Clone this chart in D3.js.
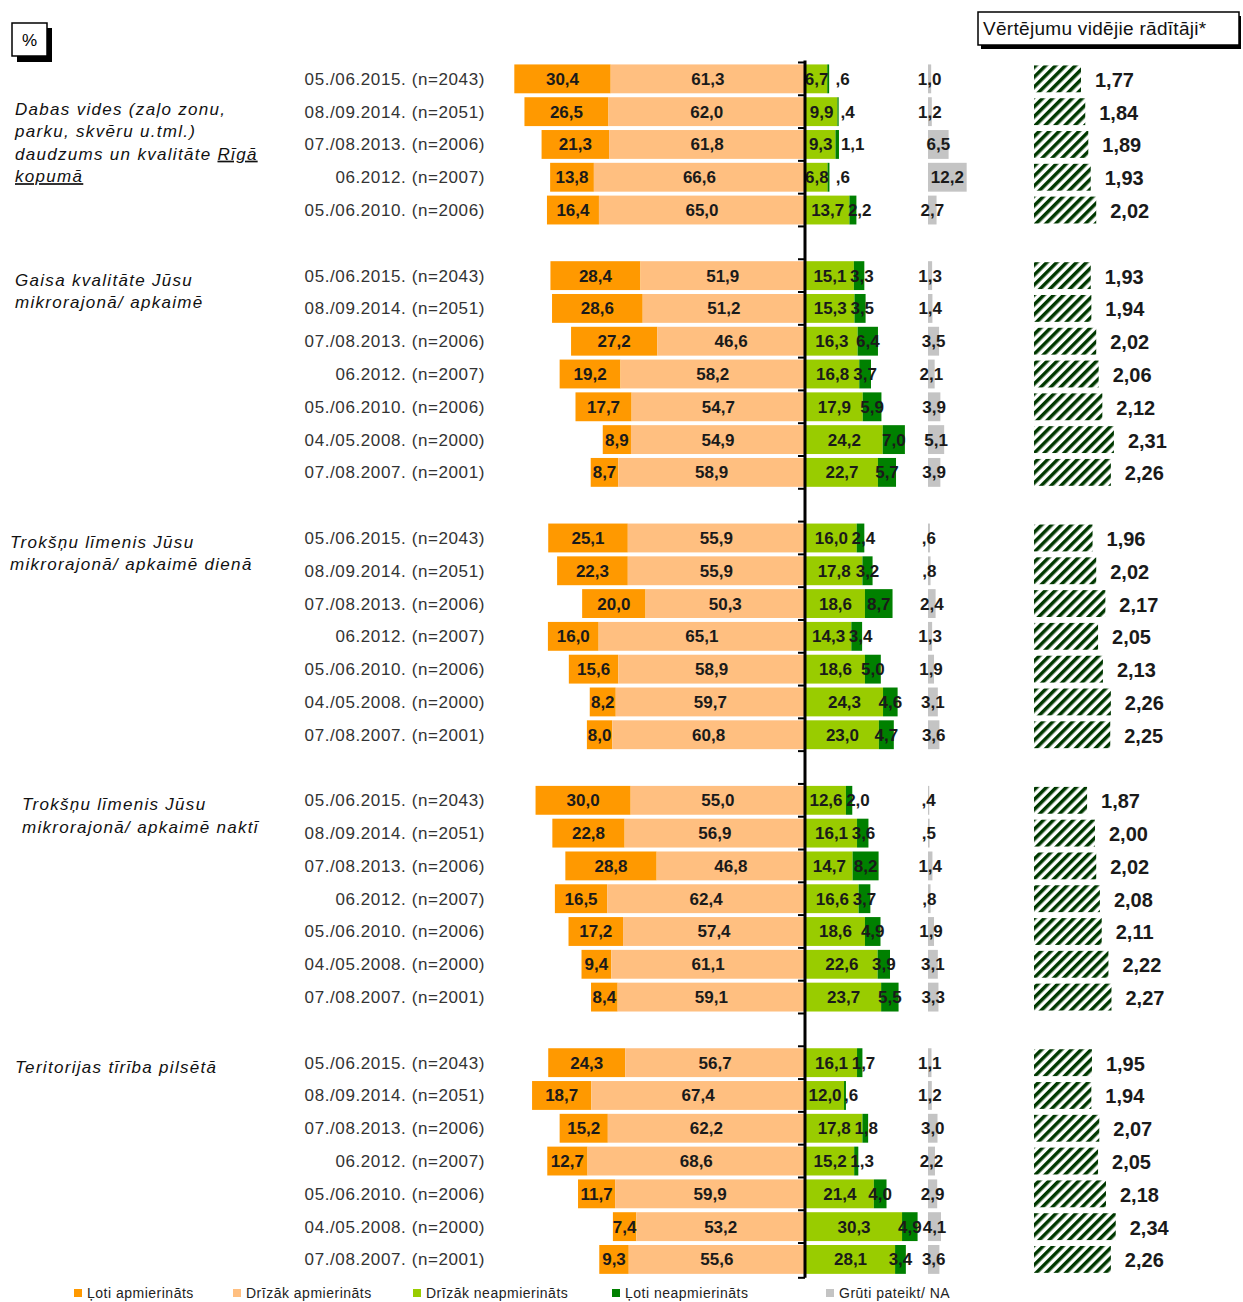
<!DOCTYPE html>
<html>
<head>
<meta charset="utf-8">
<script src="https://cdn.jsdelivr.net/npm/d3@7"></script>
<style>
  body { margin: 0; background: #fff; }
  svg { display: block; font-family: "Liberation Sans", Arial, sans-serif; }
</style>
</head>
<body>
<svg id="chart" width="1243" height="1302"></svg>
<script>
// ---------- DATA ----------
const groups = [
  "Dabas vides (zaļo zonu, parku, skvēru u.tml.) daudzums un kvalitāte Rīgā kopumā",
  "Gaisa kvalitāte Jūsu mikrorajonā/ apkaimē",
  "Trokšņu līmenis Jūsu mikrorajonā/ apkaimē dienā",
  "Trokšņu līmenis Jūsu mikrorajonā/ apkaimē naktī",
  "Teritorijas tīrība pilsētā"
];
const groupLines = [
  ["Dabas vides (zaļo zonu,", "parku, skvēru u.tml.)", "daudzums un kvalitāte |Rīgā", "|kopumā"],
  ["Gaisa kvalitāte Jūsu", "mikrorajonā/ apkaimē"],
  ["Trokšņu līmenis Jūsu", "mikrorajonā/ apkaimē dienā"],
  ["Trokšņu līmenis Jūsu", "mikrorajonā/ apkaimē naktī"],
  ["Teritorijas tīrība pilsētā"]
];
const waves = [
  "05./06.2015. (n=2043)", "08./09.2014. (n=2051)", "07./08.2013. (n=2006)",
  "06.2012. (n=2007)", "05./06.2010. (n=2006)", "04./05.2008. (n=2000)", "07./08.2007. (n=2001)"
];
const seriesNames = ["Ļoti apmierināts", "Drīzāk apmierināts", "Drīzāk neapmierināts", "Ļoti neapmierināts", "Grūti pateikt/ NA"];

const veryS = [
  [30.4, 26.5, 21.3, 13.8, 16.4],
  [28.4, 28.6, 27.2, 19.2, 17.7, 8.9, 8.7],
  [25.1, 22.3, 20.0, 16.0, 15.6, 8.2, 8.0],
  [30.0, 22.8, 28.8, 16.5, 17.2, 9.4, 8.4],
  [24.3, 18.7, 15.2, 12.7, 11.7, 7.4, 9.3]
];
const ratherS = [
  [61.3, 62.0, 61.8, 66.6, 65.0],
  [51.9, 51.2, 46.6, 58.2, 54.7, 54.9, 58.9],
  [55.9, 55.9, 50.3, 65.1, 58.9, 59.7, 60.8],
  [55.0, 56.9, 46.8, 62.4, 57.4, 61.1, 59.1],
  [56.7, 67.4, 62.2, 68.6, 59.9, 53.2, 55.6]
];
const ratherD = [
  [6.7, 9.9, 9.3, 6.8, 13.7],
  [15.1, 15.3, 16.3, 16.8, 17.9, 24.2, 22.7],
  [16.0, 17.8, 18.6, 14.3, 18.6, 24.3, 23.0],
  [12.6, 16.1, 14.7, 16.6, 18.6, 22.6, 23.7],
  [16.1, 12.0, 17.8, 15.2, 21.4, 30.3, 28.1]
];
const veryD = [
  [0.6, 0.4, 1.1, 0.6, 2.2],
  [3.3, 3.5, 6.4, 3.7, 5.9, 7.0, 5.7],
  [2.4, 3.2, 8.7, 3.4, 5.0, 4.6, 4.7],
  [2.0, 3.6, 8.2, 3.7, 4.9, 3.9, 5.5],
  [1.7, 0.6, 1.8, 1.3, 4.0, 4.9, 3.4]
];
const naVals = [
  [1.0, 1.2, 6.5, 12.2, 2.7],
  [1.3, 1.4, 3.5, 2.1, 3.9, 5.1, 3.9],
  [0.6, 0.8, 2.4, 1.3, 1.9, 3.1, 3.6],
  [0.4, 0.5, 1.4, 0.8, 1.9, 3.1, 3.3],
  [1.1, 1.2, 3.0, 2.2, 2.9, 4.1, 3.6]
];
const means = [
  [1.77, 1.84, 1.89, 1.93, 2.02],
  [1.93, 1.94, 2.02, 2.06, 2.12, 2.31, 2.26],
  [1.96, 2.02, 2.17, 2.05, 2.13, 2.26, 2.25],
  [1.87, 2.00, 2.02, 2.08, 2.11, 2.22, 2.27],
  [1.95, 1.94, 2.07, 2.05, 2.18, 2.34, 2.26]
];
const colors = ["#ff9900", "#ffbf80", "#99cc00", "#008000", "#c4c4c4"];

// ---------- BUILD ROWS ----------
const rows = [];
const slots = [];
groups.forEach((g, gi) => {
  veryS[gi].forEach((v, i) => {
    const key = gi + "-" + i;
    slots.push(key);
    rows.push({key, gi, i, wave: waves[i], vs: v, rs: ratherS[gi][i], rd: ratherD[gi][i], vd: veryD[gi][i], na: naVals[gi][i], mean: means[gi][i]});
  });
  if (gi < groups.length - 1) slots.push("gap" + gi);
});

const svg = d3.select("#chart");
const axisX = 805;
const unit = 3.17;
const y = d3.scaleBand().domain(slots).range([60.5, 60.5 + slots.length * 32.9]).padding(0.12);
const xL = d3.scaleLinear().domain([0, 100]).range([axisX, axisX - 100 * unit]);
const xR = d3.scaleLinear().domain([0, 100]).range([axisX + 1, axisX + 1 + 100 * unit]);
const xNA = d3.scaleLinear().domain([0, 100]).range([928, 928 + 100 * unit]);
const xM = d3.scaleLinear().domain([1, 3]).range([1034, 1034 + 2 * 61]);

const fmt = v => {
  const s = v.toFixed(1).replace(".", ",");
  return v < 1 ? s.replace(/^0/, "") : s;
};

// hatch pattern
const defs = svg.append("defs");
const pat = defs.append("pattern").attr("id", "hatch").attr("patternUnits", "userSpaceOnUse")
  .attr("width", 7).attr("height", 7).attr("patternTransform", "rotate(45)");
pat.append("rect").attr("width", 7).attr("height", 7).attr("fill", "#fff");
pat.append("rect").attr("x", 0).attr("y", 0).attr("width", 3.5).attr("height", 7).attr("fill", "#003800");

// "%" box
svg.append("rect").attr("x", 17).attr("y", 28).attr("width", 35).attr("height", 34).attr("fill", "#000");
svg.append("rect").attr("x", 12).attr("y", 23).attr("width", 35).attr("height", 33).attr("fill", "#fff").attr("stroke", "#000").attr("stroke-width", 1.5);
svg.append("text").attr("x", 29.5).attr("y", 46).attr("text-anchor", "middle").attr("font-size", 17).text("%");

// header box
svg.append("rect").attr("x", 981).attr("y", 16).attr("width", 260).attr("height", 33).attr("fill", "#000");
svg.append("rect").attr("x", 978).attr("y", 12).attr("width", 261).attr("height", 33).attr("fill", "#fff").attr("stroke", "#000").attr("stroke-width", 1.5);
svg.append("text").attr("x", 983).attr("y", 35).attr("font-size", 19).attr("letter-spacing", 0.3).attr("fill", "#111").text("Vērtējumu vidējie rādītāji*");

// group labels
const gLabelX = [15, 15, 10, 22, 15];
groupLines.forEach((lines, gi) => {
  const firstRow = gi === 0 ? gi + "-1" : gi + "-0";
  const y0 = y(firstRow) + y.bandwidth() / 2 + (gi === 0 ? 3 : 10);
  const t = svg.append("text").attr("font-size", 17).attr("font-style", "italic")
    .attr("letter-spacing", 1.3).attr("fill", "#111");
  lines.forEach((ln, li) => {
    const parts = ln.split("|");
    const line = t.append("tspan").attr("x", gLabelX[gi]).attr("y", y0 + li * 22.5);
    if (parts[0]) line.append("tspan").text(parts[0]);
    if (parts.length > 1) line.append("tspan").attr("text-decoration", "underline").text(parts[1]);
  });
});

// wave labels
svg.append("g").selectAll("text").data(rows).join("text")
  .attr("x", 485).attr("y", d => y(d.key) + y.bandwidth() / 2 + 6)
  .attr("text-anchor", "end").attr("font-size", 17).attr("letter-spacing", 0.6).attr("fill", "#333")
  .text(d => d.wave);

// bars
const segs = [];
rows.forEach(d => {
  segs.push({d, s: 0, x0: xL(d.vs + d.rs), x1: xL(d.rs), v: d.vs});
  segs.push({d, s: 1, x0: xL(d.rs), x1: xL(0), v: d.rs});
  segs.push({d, s: 2, x0: xR(0), x1: xR(d.rd), v: d.rd});
  segs.push({d, s: 3, x0: xR(d.rd), x1: xR(d.rd + d.vd), v: d.vd});
  segs.push({d, s: 4, x0: xNA(0), x1: xNA(d.na), v: d.na});
});
svg.append("g").selectAll("rect").data(segs).join("rect")
  .attr("x", s => s.x0).attr("width", s => Math.max(0, s.x1 - s.x0))
  .attr("y", s => y(s.d.key)).attr("height", y.bandwidth())
  .attr("fill", s => colors[s.s]);

// label x: centered; small dark-green labels nudged right of the light-green label
const labelX = s => {
  const c = (s.x0 + s.x1) / 2;
  if (s.s === 3) {
    const lightC = (xR(0) + xR(s.d.rd)) / 2;
    const minGap = s.v < 1 ? 26 : 32;
    return Math.max(c, lightC + minGap);
  }
  return c;
};
svg.append("g").selectAll("text").data(segs).join("text")
  .attr("x", labelX)
  .attr("y", s => y(s.d.key) + y.bandwidth() / 2 + 6)
  .attr("text-anchor", "middle").attr("font-size", 17).attr("font-weight", "bold").attr("fill", "#1a1a1a")
  .text(s => fmt(s.v));

// axis line and ticks
svg.append("line").attr("x1", axisX).attr("x2", axisX).attr("y1", y.range()[0]).attr("y2", y.range()[1])
  .attr("stroke", "#000").attr("stroke-width", 3);
const tickYs = slots.map(k => y(k) - y.step() * y.paddingInner() / 2).concat([y.range()[1]]);
svg.append("g").selectAll("line").data(tickYs).join("line")
  .attr("x1", axisX - 7).attr("x2", axisX).attr("y1", t => t).attr("y2", t => t)
  .attr("stroke", "#000").attr("stroke-width", 2);

// mean bars
svg.append("g").selectAll("rect").data(rows).join("rect")
  .attr("x", xM(1)).attr("width", d => xM(d.mean) - xM(1))
  .attr("y", d => y(d.key) + 1).attr("height", y.bandwidth() - 2)
  .attr("fill", "url(#hatch)");
svg.append("g").selectAll("text").data(rows).join("text")
  .attr("x", d => xM(d.mean) + 14).attr("y", d => y(d.key) + y.bandwidth() / 2 + 8)
  .attr("font-size", 20).attr("font-weight", "bold").attr("fill", "#1a1a1a")
  .text(d => d.mean.toFixed(2).replace(".", ","));

// legend
const legX = [74, 233, 413, 612, 826];
const leg = svg.append("g").selectAll("g").data(seriesNames).join("g")
  .attr("transform", (d, i) => `translate(${legX[i]},1289)`);
leg.append("rect").attr("width", 8).attr("height", 8).attr("fill", (d, i) => colors[i]);
leg.append("text").attr("x", 13).attr("y", 9).attr("font-size", 14).attr("letter-spacing", 0.5).attr("fill", "#222").text(d => d);
</script>
</body>
</html>
